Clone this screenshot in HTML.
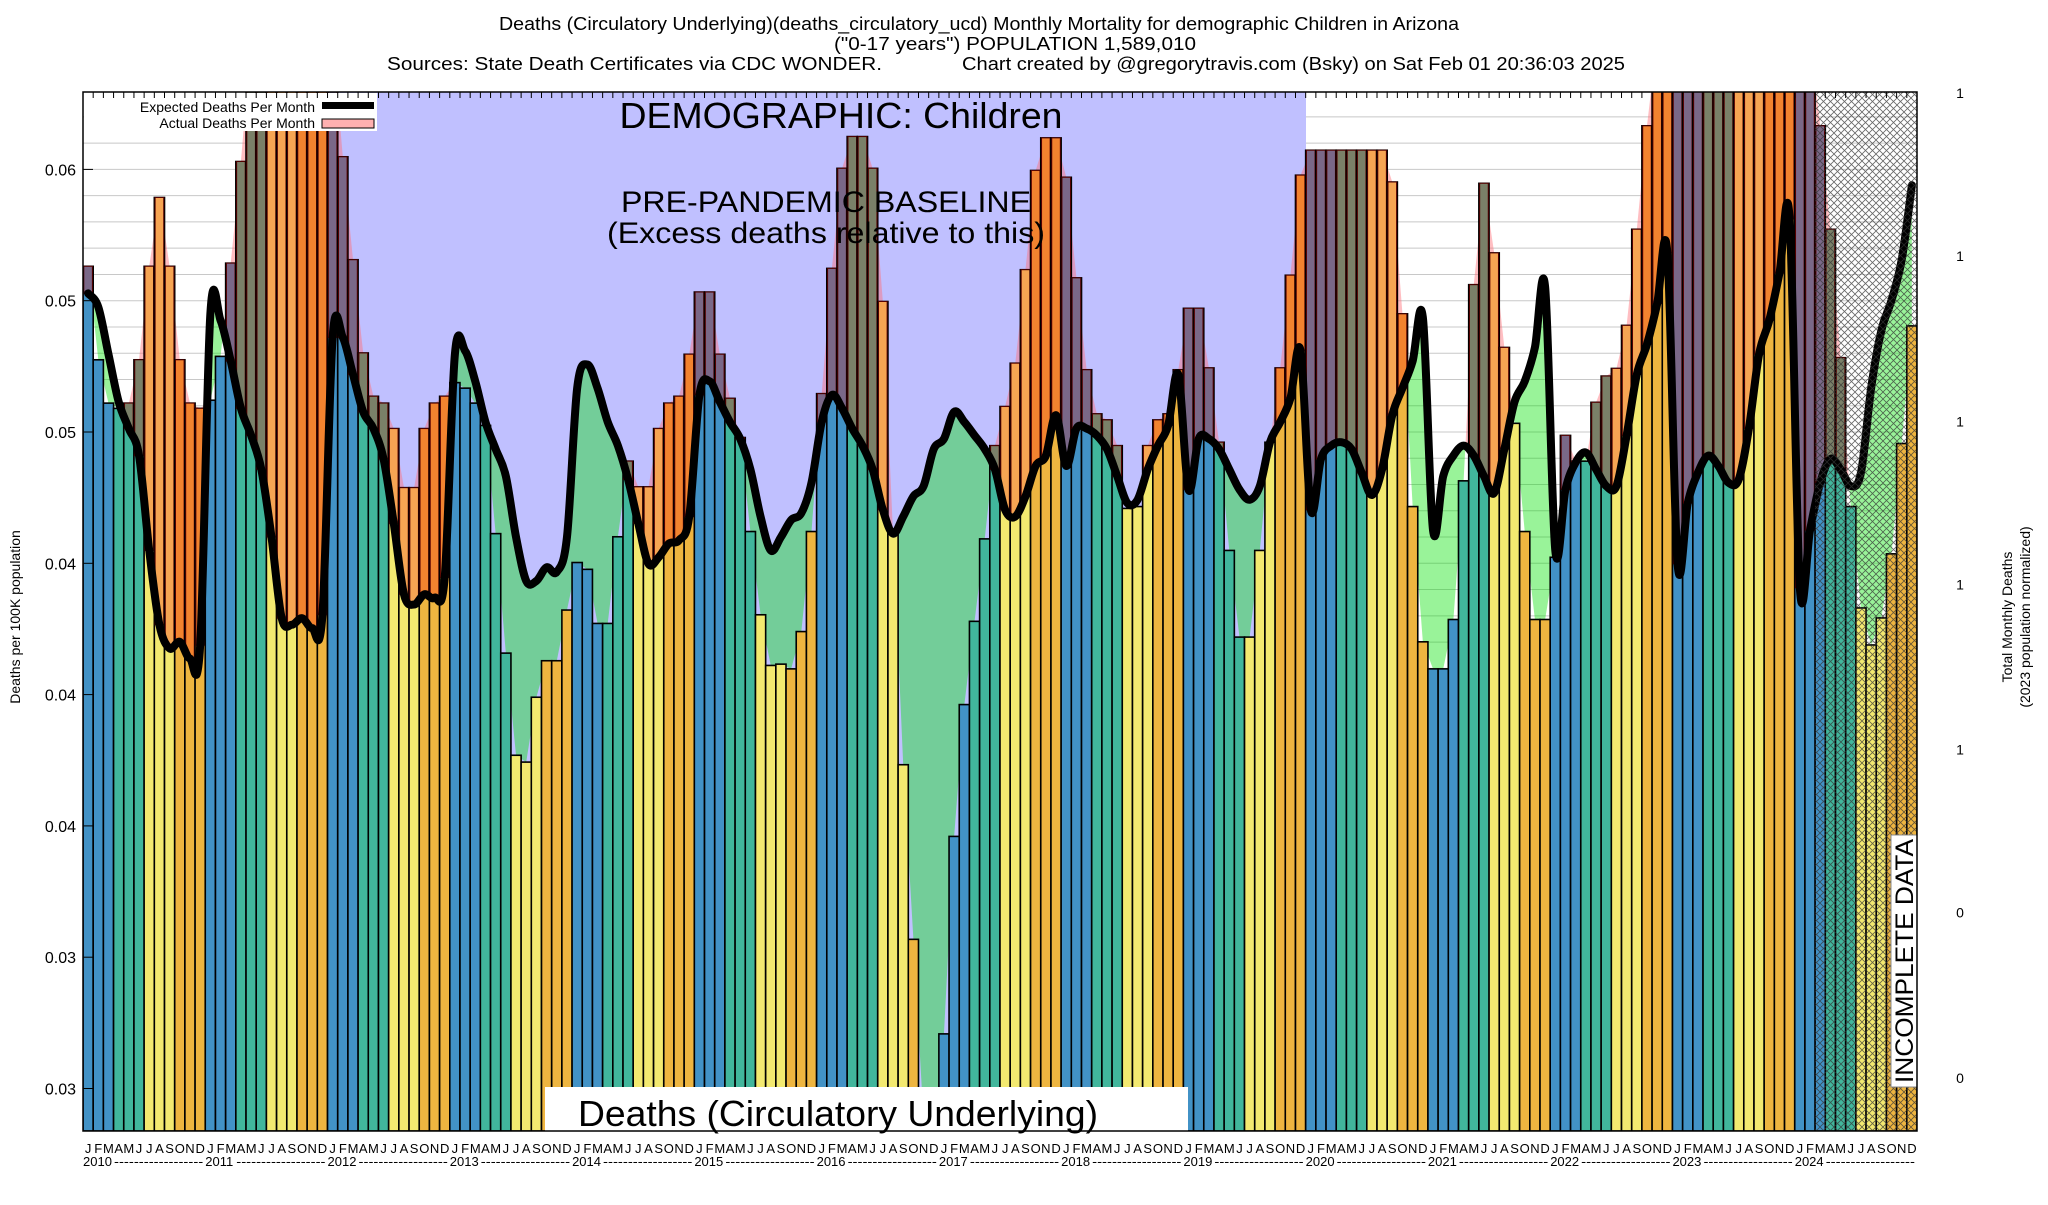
<!DOCTYPE html>
<html><head><meta charset="utf-8"><style>
html,body{margin:0;padding:0;background:#fff;}
svg text{font-family:"Liberation Sans",sans-serif;fill:#000;}
</style></head><body>
<svg id="chart" width="2048" height="1200" viewBox="0 0 2048 1200" xmlns="http://www.w3.org/2000/svg">
<defs>
<clipPath id="plotClip"><rect x="83" y="92" width="1834" height="1039"/></clipPath>
<pattern id="hatch" width="7" height="7" patternUnits="userSpaceOnUse">
<path d="M0,0 L7,7 M7,0 L0,7" stroke="#333" stroke-width="0.8" opacity="0.75"/>
</pattern>
<clipPath id="aboveActual"><path id="aboveActualPath"/></clipPath>
<clipPath id="aboveExpected"><path id="aboveExpectedPath"/></clipPath>
</defs>
<g id="titles">
<text x="979" y="30" font-size="18" text-anchor="middle" textLength="960" lengthAdjust="spacingAndGlyphs">Deaths (Circulatory Underlying)(deaths_circulatory_ucd) Monthly Mortality for demographic Children in Arizona</text>
<text x="1015" y="50" font-size="18" text-anchor="middle" textLength="362" lengthAdjust="spacingAndGlyphs">("0-17 years") POPULATION 1,589,010</text>
<text x="387" y="70" font-size="18" textLength="495" lengthAdjust="spacingAndGlyphs">Sources: State Death Certificates via CDC WONDER.</text>
<text x="962" y="70" font-size="18" textLength="663" lengthAdjust="spacingAndGlyphs">Chart created by @gregorytravis.com (Bsky) on Sat Feb 01 20:36:03 2025</text>
</g>
<g id="grid"></g>
<rect x="328" y="92" width="978" height="1039" fill="#c0c0ff"/>
<g id="fills" clip-path="url(#plotClip)"></g>
<g id="bars" clip-path="url(#plotClip)"></g>
<g id="line" clip-path="url(#plotClip)"></g>
<rect x="1815" y="92" width="102" height="1039" fill="url(#hatch)"/>
<g>
<text x="841" y="128" font-size="36" text-anchor="middle" textLength="443" lengthAdjust="spacingAndGlyphs">DEMOGRAPHIC: Children</text>
<text x="826" y="212" font-size="30" text-anchor="middle" textLength="410" lengthAdjust="spacingAndGlyphs">PRE-PANDEMIC BASELINE</text>
<text x="826" y="243" font-size="30" text-anchor="middle" textLength="438" lengthAdjust="spacingAndGlyphs">(Excess deaths relative to this)</text>
</g>
<g>
<rect x="545" y="1087" width="643" height="44" fill="#fff"/>
<text x="838" y="1126" font-size="36" text-anchor="middle" textLength="520" lengthAdjust="spacingAndGlyphs">Deaths (Circulatory Underlying)</text>
</g>
<g>
<rect x="1891" y="835" width="26" height="252" fill="#fff" stroke="#888" stroke-width="1"/>
<text transform="translate(1913,961) rotate(-90)" font-size="25" text-anchor="middle" textLength="244" lengthAdjust="spacingAndGlyphs">INCOMPLETE DATA</text>
</g>
<g>
<rect x="84" y="93" width="293" height="38" fill="#fff"/>
<text x="315" y="112" font-size="14" text-anchor="end">Expected Deaths Per Month</text>
<text x="315" y="128" font-size="14" text-anchor="end">Actual Deaths Per Month</text>
<rect x="322" y="102" width="52" height="7" fill="#000"/>
<rect x="322" y="119" width="52" height="9" fill="#ffb0b0" stroke="#000" stroke-width="1"/>
</g>
<rect x="83" y="92" width="1834" height="1039" fill="none" stroke="#000" stroke-width="1.5"/>
<g id="axes"></g>
<text transform="translate(20,617) rotate(-90)" font-size="14" text-anchor="middle">Deaths per 100K population</text>
<text transform="translate(2012,617) rotate(-90)" font-size="14" text-anchor="middle">Total Monthly Deaths</text>
<text transform="translate(2030,617) rotate(-90)" font-size="14" text-anchor="middle">(2023 population normalized)</text>
</svg>
<script>
const months = ["J","F","M","A","M","J","J","A","S","O","N","D"];
const years = ["2010","2011","2012","2013","2014","2015","2016","2017","2018","2019","2020","2021","2022","2023","2024"];
const yTickValues = [0.060,0.055,0.050,0.045,0.040,0.035,0.030,0.025];
const yTickLabels = ["0.06","0.05","0.05","0.04","0.04","0.04","0.03","0.03"];
const rightTickValues = [0.0629,0.0567,0.0504,0.0442,0.0379,0.0317,0.0254];
const rightTickLabels = ["1","1","1","1","1","0","0"];
const actual = [
0.05631,0.05275,0.05110,0.05090,0.05110,0.05275,0.05631,0.05893,0.05631,0.05275,0.05110,0.05090,
0.05121,0.05288,0.05643,0.06030,0.065,0.065,0.065,0.065,0.065,0.065,0.065,0.065,
0.065,0.06048,0.05656,0.05301,0.05136,0.05110,0.05013,0.04788,0.04788,0.05013,0.05110,0.05136,
0.05188,0.05167,0.05110,0.05025,0.04613,0.04158,0.03769,0.03743,0.03990,0.04129,0.04129,0.04322,
0.04503,0.04477,0.04271,0.04271,0.04601,0.04889,0.04791,0.04791,0.05013,0.05110,0.05136,0.05296,
0.05533,0.05533,0.05296,0.05128,0.04979,0.04621,0.04304,0.04111,0.04116,0.04098,0.04240,0.04621,
0.05146,0.05623,0.06004,0.06125,0.06125,0.06004,0.05497,0.04613,0.03733,0.03068,0.0238,0.0236,
0.02708,0.03460,0.03962,0.04279,0.04593,0.04948,0.05097,0.05262,0.05618,0.05996,0.06120,0.06120,
0.05970,0.05587,0.05237,0.05069,0.05046,0.04948,0.04709,0.04716,0.04948,0.05046,0.05069,0.05237,
0.05471,0.05471,0.05244,0.04961,0.04549,0.04219,0.04219,0.04549,0.04961,0.05244,0.05597,0.05978,
0.06073,0.06073,0.06073,0.06073,0.06073,0.06073,0.06073,0.06073,0.05952,0.05450,0.04716,0.04201,
0.04098,0.04098,0.04286,0.04814,0.05561,0.05947,0.05682,0.05322,0.05033,0.04621,0.04286,0.04286,
0.04523,0.04987,0.04889,0.04889,0.05113,0.05213,0.05242,0.05406,0.05772,0.06166,0.065,0.065,
0.065,0.065,0.065,0.065,0.065,0.065,0.065,0.065,0.065,0.065,0.065,0.065,
0.065,0.065,0.06166,0.05772,0.05283,0.04716,0.04330,0.04189,0.04292,0.04536,0.04956,0.05404];
const expected = [
0.05528,0.05476,0.05296,0.05115,0.05013,0.04910,0.04549,0.04266,0.04176,0.04201,0.04137,0.04188,
0.05450,0.05425,0.05270,0.05090,0.04987,0.04858,0.04600,0.04291,0.04266,0.04291,0.04253,0.04304,
0.05360,0.05360,0.05219,0.05077,0.05013,0.04897,0.04652,0.04382,0.04343,0.04382,0.04369,0.04446,
0.05296,0.05309,0.05193,0.05038,0.04935,0.04832,0.04600,0.04433,0.04433,0.04485,0.04467,0.04600,
0.05167,0.05257,0.05167,0.05038,0.04948,0.04819,0.04652,0.04498,0.04523,0.04575,0.04588,0.04678,
0.05141,0.05193,0.05115,0.05038,0.04974,0.04858,0.04678,0.04549,0.04600,0.04665,0.04691,0.04807,
0.05038,0.05141,0.05090,0.05013,0.04948,0.04858,0.04704,0.04613,0.04678,0.04755,0.04794,0.04935,
0.04974,0.05077,0.05038,0.04987,0.04935,0.04858,0.04704,0.04678,0.04755,0.04871,0.04910,0.05064,
0.04871,0.05013,0.05013,0.04987,0.04935,0.04832,0.04729,0.04742,0.04858,0.04948,0.05025,0.05219,
0.04781,0.04974,0.04974,0.04935,0.04858,0.04781,0.04742,0.04794,0.04961,0.05038,0.05128,0.05309,
0.04704,0.04897,0.04948,0.04961,0.04935,0.04845,0.04760,0.04858,0.05064,0.05167,0.05270,0.05437,
0.04626,0.04832,0.04910,0.04948,0.04910,0.04832,0.04768,0.04935,0.05115,0.05193,0.05322,0.05553,
0.04549,0.04781,0.04884,0.04922,0.04858,0.04794,0.04794,0.04987,0.05219,0.05334,0.05489,0.05682,
0.04498,0.04729,0.04845,0.04910,0.04871,0.04807,0.04819,0.05013,0.05296,0.05425,0.05605,0.05811,
0.04407,0.04626,0.04807,0.04897,0.04858,0.04794,0.04845,0.05167,0.05386,0.05502,0.05656,0.05940];

const NS = "http://www.w3.org/2000/svg";
const PL = 83, PR = 1917, PT = 92, PB = 1131;
const N = actual.length;
const BW = (PR - PL) / N;
function xEdge(i){ return PL + BW * i; }
function xMid(i){ return PL + BW * (i + 0.5); }
function yScale(v){ return 169.4 + (0.06 - v) / 0.005 * 131.3; }
function mk(tag, attrs, parent){
  const e = document.createElementNS(NS, tag);
  for (const k in attrs) e.setAttribute(k, attrs[k]);
  parent.appendChild(e);
  return e;
}
const seasonColor = ["#4292c6","#41b69c","#f3e970","#eeb540"];
const excessColor = ["#7a6888","#7a8068","#f6a553","#f2832f"];

const grid = document.getElementById('grid');
for (let v = 0.023; v <= 0.0631; v += 0.001) {
  const y = yScale(v);
  if (y < PT || y > PB) continue;
  const g = mk('line', {x1: PL, x2: PR, y1: y, y2: y, stroke: '#c8c8c8', 'stroke-width': 1}, grid);
  
  
}

const actualPts = actual.map((v, i) => [xMid(i), yScale(v)]);
const expPts = expected.map((v, i) => [xMid(i), yScale(v)]);
function smoothPath(pts){
  let d = "M" + pts[0][0] + "," + pts[0][1];
  for (let i = 0; i < pts.length - 1; i++) {
    const p0 = pts[Math.max(0, i - 1)], p1 = pts[i], p2 = pts[i + 1], p3 = pts[Math.min(pts.length - 1, i + 2)];
    const c1x = p1[0] + (p2[0] - p0[0]) / 6, c1y = p1[1] + (p2[1] - p0[1]) / 6;
    const c2x = p2[0] - (p3[0] - p1[0]) / 6, c2y = p2[1] - (p3[1] - p1[1]) / 6;
    d += " C" + c1x + "," + c1y + " " + c2x + "," + c2y + " " + p2[0] + "," + p2[1];
  }
  return d;
}
function polyPath(pts){ return "M" + pts.map(p => p[0] + "," + p[1]).join(" L"); }
const expD = smoothPath(expPts);
const actD = polyPath(actualPts);
const x0 = xMid(0), x1 = xMid(N - 1);
document.getElementById('aboveActualPath').setAttribute('d', actD + " L" + x1 + "," + 0 + " L" + x0 + "," + 0 + " Z");
document.getElementById('aboveExpectedPath').setAttribute('d', expD + " L" + x1 + "," + 0 + " L" + x0 + "," + 0 + " Z");
const fills = document.getElementById('fills');
const pink = mk('path', {d: actD + " L" + x1 + "," + PB + " L" + x0 + "," + PB + " Z", fill: 'rgba(255,110,120,0.45)', 'clip-path': 'url(#aboveExpected)'}, fills);


const green = mk('path', {d: expD + " L" + x1 + "," + PB + " L" + x0 + "," + PB + " Z", fill: 'rgba(0,225,0,0.4)', 'clip-path': 'url(#aboveActual)'}, fills);



const bars = document.getElementById('bars');
for (let i = 0; i < N; i++) {
  const s = Math.floor((i % 12) / 3);
  const ya = yScale(actual[i]), ye = yScale(expected[i]);
  const b = mk('rect', {x: xEdge(i), y: ya, width: BW, height: PB - ya, fill: seasonColor[s], stroke: '#000', 'stroke-width': 1.6}, bars);
  
  
  if (ya < ye) {
    const ex = mk('rect', {x: xEdge(i) + 0.8, y: ya, width: BW - 1.6, height: ye - ya, fill: excessColor[s], stroke: '#500', 'stroke-width': 1}, bars);
    
    
  }
}

const lineG = document.getElementById('line');
const ln = mk('path', {d: expD, fill: 'none', stroke: '#000', 'stroke-width': 8, 'stroke-linejoin': 'round', 'stroke-linecap': 'round'}, lineG);



const axes = document.getElementById('axes');
yTickValues.forEach((v, k) => {
  const y = yScale(v);
  const t = mk('text', {x: 76, y: y + 6, 'font-size': 16, 'text-anchor': 'end'}, axes);
  t.textContent = yTickLabels[k];
  
  
  const tk = mk('line', {x1: PL, x2: PL + 10, y1: y, y2: y, stroke: '#000', 'stroke-width': 1}, axes);
  
  
});
rightTickValues.forEach((v, k) => {
  const y = yScale(v);
  const t = mk('text', {x: 1960, y: y + 5, 'font-size': 14, 'text-anchor': 'middle'}, axes);
  t.textContent = rightTickLabels[k];
  
  
});
for (let i = 0; i <= N; i++) {
  const tk = mk('line', {x1: xEdge(i), x2: xEdge(i), y1: PT, y2: PT + 6, stroke: '#000', 'stroke-width': 1}, axes);
  
  
}
for (let i = 0; i < N; i++) {
  const t = mk('text', {x: xMid(i), y: 1153, 'font-size': 13, 'text-anchor': 'middle'}, axes);
  t.textContent = months[i % 12];
  
  
}
years.forEach((yr, k) => {
  const xs = xEdge(k * 12);
  const t = mk('text', {x: xs, y: 1166, 'font-size': 13}, axes);
  t.textContent = yr;
  
  
  const d = mk('text', {x: xs + 31, y: 1166, 'font-size': 13, textLength: BW * 12 - 33, lengthAdjust: 'spacingAndGlyphs'}, axes);
  d.textContent = "------------------";
  
  
});
</script>
</body></html>
